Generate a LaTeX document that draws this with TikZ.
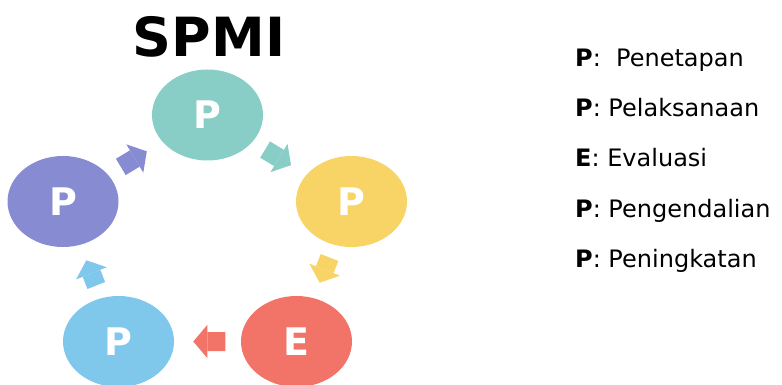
\documentclass[tikz,border=0pt]{standalone}
\usepackage{fontspec}
\setmainfont{DejaVu Sans}
\usepackage{tikz}
\usetikzlibrary{arrows.meta, shapes.geometric, positioning, calc}
\definecolor{spmiteal}{RGB}{136,205,198}
\definecolor{spmiyellow}{RGB}{247,212,101}
\definecolor{spmired}{RGB}{242,116,104}
\definecolor{spmiblue}{RGB}{127,200,236}
\definecolor{spmipurple}{RGB}{135,139,209}
\tikzstyle{phase} = [ellipse, minimum width=111pt, minimum height=91pt, inner sep=0pt, text=white, font={\fontsize{38}{38}\selectfont\bfseries}]
\tikzstyle{cycle_arrow} = [line width=19pt, -{Triangle[width=33pt,length=14pt,line width=0pt]}]
\tikzstyle{legend} = [anchor=base west, inner sep=0pt, font={\fontsize{24}{24}\selectfont}]

\begin{document}
\begin{tikzpicture}[x=1pt, y=-1pt]
\useasboundingbox (0,0) rectangle (782,385);

\node[font={\fontsize{54}{54}\selectfont\bfseries}] (title) at (209,37) {SPMI};

% Siklus
\node[phase, fill=spmiteal] (penetapan) at (207.5,115) {P};
\node[phase, fill=spmiyellow] (pelaksanaan) at (351.5,201.5) {P};
\node[phase, fill=spmired] (evaluasi) at (296.5,341.5) {E};
\node[phase, fill=spmiblue] (pengendalian) at (118.5,341.5) {P};
\node[phase, fill=spmipurple] (peningkatan) at (63,201.5) {P};

\draw[cycle_arrow, spmiteal] ($(penetapan)!0.4!(pelaksanaan)$) -- ($(penetapan)!0.58!(pelaksanaan)$);
\draw[cycle_arrow, spmiyellow] ($(pelaksanaan)!0.4!(evaluasi)$) -- ($(pelaksanaan)!0.58!(evaluasi)$);
\draw[cycle_arrow, spmired] ($(evaluasi)!0.4!(pengendalian)$) -- ($(evaluasi)!0.58!(pengendalian)$);
\draw[cycle_arrow, spmiblue] ($(pengendalian)!0.4!(peningkatan)$) -- ($(pengendalian)!0.58!(peningkatan)$);
\draw[cycle_arrow, spmipurple] ($(peningkatan)!0.4!(penetapan)$) -- ($(peningkatan)!0.58!(penetapan)$);

% Keterangan
\node[legend] (leg1) at (575,67) {\textbf{P}:\ \ Penetapan};
\node[legend, below=50pt of leg1.base west, anchor=base west] (leg2) {\textbf{P}: Pelaksanaan};
\node[legend, below=50pt of leg2.base west, anchor=base west] (leg3) {\textbf{E}: Evaluasi};
\node[legend, below=50pt of leg3.base west, anchor=base west] (leg4) {\textbf{P}: Pengendalian};
\node[legend, below=50pt of leg4.base west, anchor=base west] (leg5) {\textbf{P}: Peningkatan};

\end{tikzpicture}
\end{document}
